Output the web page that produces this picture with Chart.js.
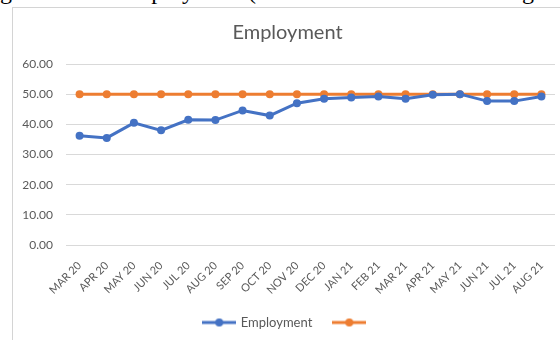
<!DOCTYPE html>
<html>
<head>
<meta charset="utf-8">
<script src="https://cdn.jsdelivr.net/npm/chart.js@4/dist/chart.umd.min.js"></script>
<style>
  body { margin: 0; background: #fff; width: 560px; height: 340px; overflow: hidden; position: relative; }
  .doc { position: absolute; top: -22px; font-family: "Liberation Serif", serif; font-size: 24px; color: #000; white-space: nowrap; }
  #frame { position: absolute; left: 12px; top: 7px; width: 600px; height: 400px; border: 1px solid #d4d4d4; background: #fff; }
  #wrap { position: absolute; left: 0; top: 0; width: 560px; height: 340px; }
</style>
</head>
<body>
<span class="doc" style="left:0px">g</span>
<span class="doc" style="left:118px">Employment (</span>
<span class="doc" style="left:522px">g</span>
<div id="frame"></div>
<div id="wrap"><canvas id="myChart" width="560" height="340"></canvas></div>
<script>
const months = ['MAR 20', 'APR 20', 'MAY 20', 'JUN 20', 'JUL 20', 'AUG 20', 'SEP 20', 'OCT 20', 'NOV 20',
    'DEC 20', 'JAN 21', 'FEB 21', 'MAR 21', 'APR 21', 'MAY 21', 'JUN 21', 'JUL 21', 'AUG 21'];
const employment = [36.2, 35.5, 40.5, 38.0, 41.5, 41.4, 44.6, 42.9, 47.0,
    48.5, 48.9, 49.2, 48.5, 49.8, 50.0, 47.7, 47.7, 49.2];
const target = [50, 50, 50, 50, 50, 50, 50, 50, 50,
    50, 50, 50, 50, 50, 50, 50, 50, 50];
const yTicks = [0, 10, 20, 30, 40, 50, 60];

const blue = '#4472C4';
const orange = '#ED7D31';
const grey = '#595959';

// little line + dot marker for the legend, like excel does
function legendMarker(color) {
    const c = document.createElement('canvas');
    c.width = 34;
    c.height = 10;
    const g = c.getContext('2d');
    g.strokeStyle = color;
    g.lineWidth = 3;
    g.beginPath();
    g.moveTo(0, 5);
    g.lineTo(34, 5);
    g.stroke();
    g.fillStyle = color;
    g.beginPath();
    g.arc(17, 5, 4, 0, Math.PI * 2);
    g.fill();
    return c;
}

const ctx = document.getElementById('myChart').getContext('2d');
const myChart = new Chart(ctx, {
    type: 'line',
    data: {
        labels: months,
        datasets: [
            {
                label: 'Employment',
                data: employment,
                borderColor: blue,
                backgroundColor: blue,
                borderWidth: 3,
                pointRadius: 4,
                pointBackgroundColor: blue,
                pointBorderWidth: 0,
                pointStyle: 'circle',
                tension: 0
            },
            {
                label: '',
                data: target,
                borderColor: orange,
                backgroundColor: orange,
                borderWidth: 3,
                pointRadius: 4,
                pointBackgroundColor: orange,
                pointBorderWidth: 0,
                pointStyle: 'circle',
                tension: 0
            }
        ]
    },
    options: {
        responsive: false,
        animation: false,
        layout: {
            padding: { top: 14, left: 20, right: 5, bottom: 1 }
        },
        plugins: {
            title: {
                display: true,
                text: 'Employment',
                color: grey,
                font: { family: 'Lato', size: 20, weight: 'normal' },
                padding: { top: 7, bottom: 19 }
            },
            legend: {
                position: 'bottom',
                labels: {
                    usePointStyle: true,
                    pointStyleWidth: 30,
                    color: grey,
                    font: { family: 'Lato', size: 13 },
                    padding: 22,
                    generateLabels: function(chart) {
                        return chart.data.datasets.map((ds, i) => ({
                            text: ds.label,
                            fontColor: grey,
                            pointStyle: legendMarker(ds.borderColor),
                            datasetIndex: i,
                            lineWidth: 0,
                            hidden: false
                        }));
                    }
                }
            },
            tooltip: { enabled: false }
        },
        scales: {
            x: {
                offset: true,
                grid: { display: false },
                border: { display: false },
                ticks: {
                    autoSkip: false,
                    minRotation: 45,
                    maxRotation: 45,
                    color: grey,
                    padding: 6,
                    font: { family: 'Lato', size: 11 }
                },
                afterFit: function(scale) {
                    scale.height = 49;
                }
            },
            y: {
                min: 0,
                max: 60,
                grid: { color: '#d9d9d9', drawTicks: false, lineWidth: 1 },
                border: { display: false },
                afterBuildTicks: function(scale) {
                    scale.ticks = yTicks.map(v => ({ value: v }));
                },
                ticks: {
                    color: grey,
                    padding: 13,
                    font: { family: 'Lato', size: 12 },
                    callback: function(value) {
                        return Number(value).toFixed(2);
                    }
                },
                afterFit: function(scale) {
                    scale.width = 46;
                }
            }
        }
    }
});
</script>
</body>
</html>
